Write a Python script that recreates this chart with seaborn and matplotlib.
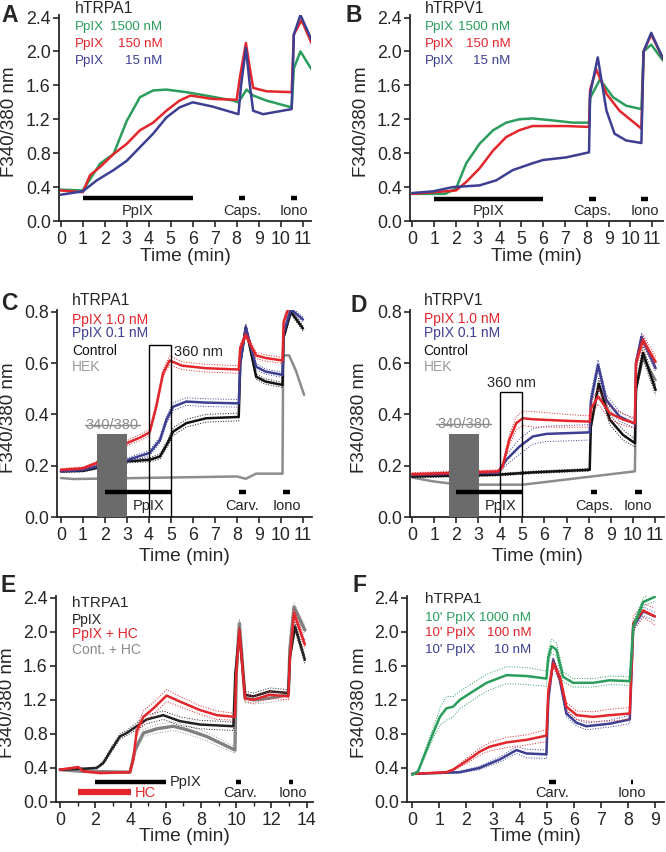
import numpy as np
import matplotlib
matplotlib.use("Agg")
import matplotlib.pyplot as plt
from matplotlib.patches import Rectangle
from matplotlib.ticker import MultipleLocator
import seaborn as sns

sns.set_style("ticks")
plt.rcParams['font.family'] = ['Liberation Sans', 'DejaVu Sans']

GREEN = '#2a9d5c'
RED = '#e3262c'
BLUE = '#3c3f92'
BLACK = '#111111'
GRAY = '#8c8c8c'

# ---- panel A : hTRPA1, PpIX dose ----
a_green_t = [0, 1.0, 1.8, 2.4, 3.0, 3.6, 4.2, 4.8, 5.7, 6.6, 7.85, 8.08, 8.45, 8.75, 9.36, 10.5, 10.6, 10.9, 11.4]
a_green = [0.37, 0.36, 0.68, 0.79, 1.18, 1.46, 1.54, 1.55, 1.52, 1.48, 1.42, 1.40, 1.55, 1.48, 1.42, 1.34, 1.80, 2.00, 1.79]
a_red_t = [0, 1.0, 1.33, 1.8, 2.4, 3.0, 3.6, 4.2, 4.8, 5.4, 5.9, 6.9, 8.0, 8.15, 8.42, 8.6, 8.75, 9.36, 10.5, 10.6, 10.95, 11.4]
a_red = [0.36, 0.34, 0.54, 0.64, 0.79, 0.91, 1.07, 1.16, 1.30, 1.42, 1.48, 1.44, 1.43, 1.70, 2.10, 1.80, 1.57, 1.53, 1.52, 2.20, 2.37, 2.10]
a_blue_t = [0, 1.0, 1.64, 2.4, 3.0, 3.6, 4.2, 4.8, 5.4, 6.0, 6.9, 8.08, 8.2, 8.42, 8.6, 8.75, 9.2, 10.5, 10.6, 10.9, 11.4]
a_blue = [0.31, 0.35, 0.48, 0.60, 0.71, 0.87, 1.03, 1.22, 1.34, 1.40, 1.35, 1.26, 1.60, 2.04, 1.60, 1.30, 1.26, 1.32, 2.20, 2.43, 2.14]
a_stim = ['PpIX', 'Caps.', 'Iono']
a_stim_on = [1.0, 8.1, 10.45]
a_stim_off = [6.0, 8.4, 10.75]

# ---- panel B : hTRPV1, PpIX dose ----
b_green_t = [0, 1.5, 2.0, 2.47, 3.08, 3.7, 4.3, 4.9, 5.5, 6.3, 7.36, 8.1, 8.15, 8.6, 9.2, 9.8, 10.5, 10.6, 10.95, 11.5]
b_green = [0.32, 0.32, 0.38, 0.68, 0.91, 1.07, 1.16, 1.20, 1.21, 1.19, 1.16, 1.16, 1.45, 1.67, 1.46, 1.36, 1.32, 2.00, 2.08, 1.89]
b_red_t = [0, 2.0, 2.47, 3.08, 3.7, 4.3, 4.9, 5.5, 7.05, 8.1, 8.15, 8.43, 8.9, 9.5, 10.5, 10.6, 10.95, 11.5]
b_red = [0.32, 0.36, 0.46, 0.62, 0.83, 0.99, 1.07, 1.12, 1.12, 1.11, 1.55, 1.79, 1.50, 1.30, 1.09, 2.00, 2.20, 1.91]
b_blue_t = [0, 0.95, 1.86, 3.08, 3.85, 4.6, 5.5, 6.0, 7.05, 8.1, 8.15, 8.5, 8.9, 9.27, 9.8, 10.5, 10.6, 10.95, 11.5]
b_blue = [0.33, 0.35, 0.40, 0.42, 0.48, 0.60, 0.68, 0.72, 0.75, 0.81, 1.50, 1.93, 1.30, 1.03, 0.95, 0.92, 2.00, 2.22, 1.91]
b_stim = ['PpIX', 'Caps.', 'Iono']
b_stim_on = [1.0, 8.1, 10.5]
b_stim_off = [6.0, 8.4, 10.8]

# ---- panel C : hTRPA1, 360 nm light ----
c_red_t = [0, 1.0, 1.6, 2.2, 3.05, 3.6, 4.03, 4.33, 4.64, 4.94, 5.5, 6.6, 8.08, 8.15, 8.4, 8.87, 9.3, 10.07, 10.12, 10.45, 11.0]
c_red = [0.184, 0.19, 0.21, 0.25, 0.29, 0.31, 0.33, 0.43, 0.56, 0.61, 0.59, 0.58, 0.575, 0.66, 0.71, 0.63, 0.62, 0.61, 0.76, 0.84, 0.82]
c_red_sem = [0.005, 0.005, 0.006, 0.008, 0.01, 0.012, 0.012, 0.015, 0.015, 0.018, 0.015, 0.015, 0.015, 0.015, 0.012, 0.012, 0.012, 0.012, 0.012, 0.012, 0.012]
c_blue_t = [0, 1.0, 2.2, 3.05, 4.03, 4.5, 4.8, 5.1, 5.7, 6.6, 8.08, 8.15, 8.4, 8.87, 9.3, 10.07, 10.12, 10.45, 11.0]
c_blue = [0.178, 0.184, 0.21, 0.223, 0.25, 0.30, 0.38, 0.43, 0.45, 0.446, 0.443, 0.60, 0.74, 0.586, 0.567, 0.554, 0.72, 0.81, 0.77]
c_blue_sem = [0.004, 0.005, 0.006, 0.008, 0.01, 0.012, 0.015, 0.015, 0.015, 0.015, 0.015, 0.015, 0.012, 0.012, 0.01, 0.01, 0.01, 0.01, 0.01]
c_black_t = [0, 1.0, 3.05, 4.03, 4.5, 4.86, 5.1, 5.7, 6.6, 8.08, 8.15, 8.4, 8.87, 9.3, 10.07, 10.12, 10.45, 11.0]
c_black = [0.178, 0.18, 0.217, 0.223, 0.236, 0.29, 0.333, 0.366, 0.385, 0.39, 0.60, 0.74, 0.547, 0.528, 0.515, 0.70, 0.80, 0.735]
c_black_sem = [0.004, 0.004, 0.006, 0.008, 0.01, 0.012, 0.015, 0.015, 0.015, 0.015, 0.015, 0.012, 0.01, 0.01, 0.01, 0.01, 0.01, 0.01]
c_hek_t = [0, 0.56, 8.0, 8.4, 8.87, 10.07, 10.1, 10.37, 10.68, 11.05]
c_hek = [0.152, 0.148, 0.158, 0.149, 0.169, 0.169, 0.63, 0.63, 0.57, 0.476]
c_stim = ['PpIX', 'Carv.', 'Iono']
c_stim_on = [2.0, 8.1, 10.1]
c_stim_off = [5.0, 8.4, 10.4]

# ---- panel D : hTRPV1, 360 nm light ----
d_red_t = [0, 3.9, 4.1, 4.4, 4.72, 5.02, 5.47, 6.99, 8.05, 8.1, 8.43, 8.96, 9.56, 10.1, 10.15, 10.47, 11.04]
d_red = [0.167, 0.178, 0.197, 0.30, 0.366, 0.385, 0.381, 0.375, 0.372, 0.42, 0.47, 0.405, 0.38, 0.366, 0.60, 0.69, 0.605]
d_red_sem = [0.006, 0.006, 0.01, 0.02, 0.025, 0.028, 0.03, 0.025, 0.022, 0.025, 0.03, 0.025, 0.022, 0.02, 0.02, 0.02, 0.02]
d_blue_t = [0, 3.9, 4.27, 4.87, 5.47, 6.08, 8.05, 8.1, 8.43, 8.8, 9.4, 10.1, 10.15, 10.4, 11.04]
d_blue = [0.165, 0.174, 0.223, 0.275, 0.314, 0.324, 0.33, 0.45, 0.593, 0.457, 0.392, 0.363, 0.60, 0.703, 0.58]
d_blue_sem = [0.005, 0.006, 0.02, 0.03, 0.03, 0.03, 0.03, 0.03, 0.02, 0.02, 0.02, 0.015, 0.015, 0.015, 0.015]
d_black_t = [0, 3.9, 5.47, 8.05, 8.1, 8.46, 8.96, 9.56, 10.1, 10.15, 10.47, 11.04]
d_black = [0.158, 0.165, 0.174, 0.184, 0.35, 0.52, 0.38, 0.32, 0.288, 0.50, 0.64, 0.495]
d_black_sem = [0.005, 0.005, 0.005, 0.005, 0.01, 0.02, 0.02, 0.02, 0.015, 0.02, 0.025, 0.02]
d_hek_t = [0, 0.94, 2.15, 5.02, 10.1, 10.15, 10.47, 11.04]
d_hek = [0.154, 0.139, 0.126, 0.126, 0.178, 0.50, 0.62, 0.534]
d_stim = ['PpIX', 'Caps.', 'Iono']
d_stim_on = [2.0, 8.1, 10.1]
d_stim_off = [5.0, 8.4, 10.4]

# ---- panel E : hTRPA1, HC pre-treatment ----
e_black_t = [0, 1.0, 1.32, 2.08, 2.46, 2.84, 3.4, 3.78, 4.35, 4.92, 5.86, 6.8, 7.95, 9.84, 9.95, 10.18, 10.5, 10.97, 11.9, 12.96, 13.05, 13.34, 13.9]
e_black = [0.38, 0.39, 0.39, 0.40, 0.46, 0.59, 0.77, 0.81, 0.89, 0.97, 1.02, 0.95, 0.91, 0.89, 1.50, 2.00, 1.26, 1.24, 1.30, 1.28, 1.70, 2.06, 1.67]
e_black_sem = [0.01, 0.01, 0.01, 0.01, 0.02, 0.03, 0.03, 0.03, 0.04, 0.05, 0.05, 0.05, 0.05, 0.05, 0.05, 0.05, 0.04, 0.04, 0.04, 0.04, 0.05, 0.05, 0.05]
e_red_t = [0, 1.04, 1.32, 2.27, 3.97, 4.16, 4.35, 4.73, 5.3, 6.05, 6.8, 7.95, 8.9, 9.93, 10.0, 10.18, 10.5, 10.97, 11.9, 12.96, 13.05, 13.28, 13.9]
e_red = [0.38, 0.41, 0.36, 0.34, 0.35, 0.50, 0.83, 1.00, 1.10, 1.25, 1.18, 1.08, 1.02, 1.00, 1.50, 2.02, 1.22, 1.20, 1.26, 1.24, 1.70, 2.22, 1.85]
e_red_sem = [0.01, 0.01, 0.01, 0.01, 0.01, 0.03, 0.06, 0.07, 0.07, 0.07, 0.06, 0.05, 0.05, 0.04, 0.05, 0.05, 0.04, 0.04, 0.04, 0.04, 0.05, 0.05, 0.05]
e_gray_t = [0, 1.32, 3.97, 4.26, 4.73, 5.49, 6.43, 7.19, 8.32, 9.93, 10.0, 10.18, 10.5, 10.97, 11.9, 12.96, 13.05, 13.28, 13.9]
e_gray = [0.38, 0.36, 0.35, 0.61, 0.81, 0.86, 0.89, 0.85, 0.77, 0.61, 1.50, 2.10, 1.22, 1.20, 1.22, 1.26, 1.80, 2.29, 2.02]
e_gray_sem = [0.01, 0.01, 0.01, 0.03, 0.04, 0.05, 0.05, 0.05, 0.05, 0.04, 0.05, 0.05, 0.05, 0.05, 0.05, 0.05, 0.05, 0.05, 0.05]
e_stim = ['PpIX', 'Carv.', 'Iono']
e_stim_on = [2.0, 10.0, 13.0]
e_stim_off = [6.0, 10.25, 13.25]
e_hc_on, e_hc_off = 1.0, 4.0

# ---- panel F : hTRPA1, 10 min PpIX pre-incubation ----
f_green_t = [0, 0.22, 0.53, 0.78, 1.03, 1.27, 1.52, 1.77, 2.26, 2.76, 3.5, 4.24, 4.98, 5.05, 5.17, 5.35, 5.6, 5.97, 6.71, 7.33, 8.07, 8.2, 8.57, 9.0]
f_green = [0.32, 0.36, 0.61, 0.81, 1.00, 1.10, 1.12, 1.20, 1.30, 1.40, 1.49, 1.48, 1.45, 1.70, 1.83, 1.79, 1.47, 1.40, 1.40, 1.43, 1.42, 2.06, 2.35, 2.41]
f_green_sem = [0.01, 0.01, 0.04, 0.06, 0.10, 0.14, 0.12, 0.10, 0.10, 0.10, 0.10, 0.10, 0.09, 0.08, 0.08, 0.08, 0.06, 0.05, 0.05, 0.05, 0.05, 0.05, 0.05, 0.05]
f_red_t = [0, 1.27, 1.52, 2.01, 2.5, 2.88, 3.5, 4.24, 4.98, 5.05, 5.23, 5.48, 5.72, 6.1, 6.71, 7.33, 8.07, 8.2, 8.57, 9.0]
f_red = [0.33, 0.35, 0.38, 0.48, 0.59, 0.65, 0.70, 0.73, 0.78, 1.30, 1.63, 1.47, 1.12, 1.02, 1.00, 1.02, 1.04, 2.10, 2.25, 2.18]
f_red_sem = [0.005, 0.005, 0.01, 0.03, 0.04, 0.05, 0.06, 0.06, 0.07, 0.06, 0.05, 0.05, 0.05, 0.05, 0.06, 0.07, 0.07, 0.08, 0.08, 0.10]
f_blue_t = [0, 1.77, 2.5, 3.25, 3.87, 4.24, 4.98, 5.05, 5.23, 5.48, 5.72, 6.1, 6.46, 7.33, 8.07, 8.2, 8.57, 9.0]
f_blue = [0.33, 0.35, 0.40, 0.50, 0.61, 0.57, 0.56, 1.20, 1.67, 1.43, 1.04, 0.93, 0.89, 0.92, 0.97, 2.06, 2.24, 2.18]
f_blue_sem = [0.005, 0.01, 0.02, 0.03, 0.04, 0.05, 0.05, 0.04, 0.03, 0.04, 0.04, 0.04, 0.04, 0.04, 0.05, 0.05, 0.05, 0.05]
f_stim = ['Carv.', 'Iono']
f_stim_on = [5.08, 8.12]
f_stim_off = [5.33, 8.2]


def trace(ax, t, v, color, sem=None, lw=1.8, band=None):
    sns.lineplot(x=t, y=v, ax=ax, color=color, lw=lw, estimator=None, sort=False, zorder=2)
    if sem is not None:
        v = np.asarray(v)
        sem = np.asarray(sem)
        for b in (v - sem, v + sem):
            sns.lineplot(x=t, y=b, ax=ax, color=band or color, lw=0.7, ls=':',
                         estimator=None, sort=False, zorder=2)


def stim_bars(ax, names, on, off, ybar, ytxt, lw=3.2, txt_x=None, txt_ha=None, txt_y=None):
    for i, (n, a, b) in enumerate(zip(names, on, off)):
        ax.plot([a, b], [ybar, ybar], color='black', lw=lw, solid_capstyle='butt', zorder=5)
        x = (a + b) / 2 if txt_x is None or txt_x[i] is None else txt_x[i]
        ha = 'center' if txt_ha is None else txt_ha[i]
        y = ytxt if txt_y is None or txt_y[i] is None else txt_y[i]
        ax.text(x, y, n, ha=ha, va='center', fontsize=10.5, zorder=5)


def style(ax, xlim, ylim, xmaj, ymaj, ylc, xlc):
    ax.set_xlim(*xlim)
    ax.set_ylim(*ylim)
    ax.xaxis.set_major_locator(MultipleLocator(xmaj))
    ax.yaxis.set_major_locator(MultipleLocator(ymaj))
    sns.despine(ax=ax)
    for s in ('left', 'bottom'):
        ax.spines[s].set_linewidth(1.3)
    ax.tick_params(direction='out', length=4.5, width=1.2, labelsize=12.8, pad=2.5)
    ax.tick_params(axis='y', pad=1.5)
    ax.set_xlabel('Time (min)', fontsize=13.8, va='top')
    ax.set_ylabel('F340/380 nm', fontsize=13.5, va='bottom')
    ax.xaxis.set_label_coords(0.5, xlc)
    ax.yaxis.set_label_coords(ylc, 0.48)


def legend_rows(ax, x, ys, labels, colors, fs=10):
    for y, lab, c in zip(ys, labels, colors):
        ax.text(x, y, lab, color=c, fontsize=fs, ha='left', va='center', transform=ax.transAxes)


def legend_split(ax, x, xr, ys, left, right, colors, fs=9.6):
    for y, l, r, c in zip(ys, left, right, colors):
        ax.text(x, y, l, color=c, fontsize=fs, ha='left', va='center', transform=ax.transAxes)
        ax.text(xr, y, r, color=c, fontsize=fs, ha='right', va='center', transform=ax.transAxes)


def uv_markers(ax, box_top, txt_x, txt_y, txt_ha, strike_y):
    ax.add_patch(Rectangle((1.65, 0), 1.37, 0.323, facecolor='#6b6b6b', edgecolor='none', zorder=3))
    ax.add_patch(Rectangle((4.0, 0), 1.0, box_top, facecolor='none', edgecolor='black', lw=1.0, zorder=4))
    ax.text(txt_x, txt_y, '360 nm', fontsize=10.5, ha=txt_ha, va='center', zorder=5)
    ax.text(2.33, strike_y, '340/380', fontsize=10.5, color='#8a8a8a', ha='center', va='center', zorder=5)
    ax.plot([1.1, 3.58], [strike_y, strike_y], color='#8a8a8a', lw=1.0, zorder=5)


W, H = 666, 852
fig = plt.figure(figsize=(W / 100, H / 100), dpi=100)


def add_ax(l, r, t, b):
    return fig.add_axes([l / W, 1 - b / H, (r - l) / W, (b - t) / H])


# A
ax = add_ax(59, 311, 15, 221)
trace(ax, a_green_t, a_green, GREEN)
trace(ax, a_red_t, a_red, RED)
trace(ax, a_blue_t, a_blue, BLUE)
stim_bars(ax, a_stim, a_stim_on, a_stim_off, 0.27, 0.12)
style(ax, (-0.08, 11.38), (0, 2.43), 1, 0.4, -0.163, -0.13)
ax.text(0.063, 1.033, 'hTRPA1', fontsize=11.3, ha='left', va='center', transform=ax.transAxes)
legend_split(ax, 0.063, 0.41, [0.94, 0.859, 0.778], ['PpIX'] * 3,
             ['1500 nM', '150 nM', '15 nM'], [GREEN, RED, BLUE])

# B
ax = add_ax(410, 663, 15, 221)
trace(ax, b_green_t, b_green, GREEN)
trace(ax, b_red_t, b_red, RED)
trace(ax, b_blue_t, b_blue, BLUE)
stim_bars(ax, b_stim, b_stim_on, b_stim_off, 0.26, 0.12)
style(ax, (-0.105, 11.49), (0, 2.43), 1, 0.4, -0.158, -0.13)
ax.text(0.058, 1.033, 'hTRPV1', fontsize=11.3, ha='left', va='center', transform=ax.transAxes)
legend_split(ax, 0.058, 0.397, [0.94, 0.859, 0.778], ['PpIX'] * 3,
             ['1500 nM', '150 nM', '15 nM'], [GREEN, RED, BLUE])

# C
ax = add_ax(57, 312, 310, 517)
trace(ax, c_hek_t, c_hek, GRAY)
trace(ax, c_black_t, c_black, BLACK, c_black_sem)
trace(ax, c_blue_t, c_blue, BLUE, c_blue_sem)
trace(ax, c_red_t, c_red, RED, c_red_sem)
uv_markers(ax, 0.67, 5.15, 0.645, 'left', 0.36)
stim_bars(ax, c_stim, c_stim_on, c_stim_off, 0.097, 0.041, txt_x=[4.0, None, None])
style(ax, (-0.18, 11.41), (0, 0.807), 1, 0.2, -0.157, -0.15)
ax.text(0.058, 1.048, 'hTRPA1', fontsize=11.3, ha='left', va='center', transform=ax.transAxes)
legend_rows(ax, 0.058, [0.952, 0.887, 0.803, 0.723],
            ['PpIX 1.0 nM', 'PpIX 0.1 nM', 'Control', 'HEK'], [RED, BLUE, BLACK, '#9a9a9a'])

# D
ax = add_ax(410, 664, 310, 517)
trace(ax, d_hek_t, d_hek, GRAY)
trace(ax, d_black_t, d_black, BLACK, d_black_sem)
trace(ax, d_blue_t, d_blue, BLUE, d_blue_sem)
trace(ax, d_red_t, d_red, RED, d_red_sem)
uv_markers(ax, 0.486, 4.5, 0.521, 'center', 0.363)
stim_bars(ax, d_stim, d_stim_on, d_stim_off, 0.097, 0.041, txt_x=[4.0, None, None])
style(ax, (-0.1, 11.42), (0, 0.807), 1, 0.2, -0.165, -0.15)
ax.text(0.054, 1.048, 'hTRPV1', fontsize=11.3, ha='left', va='center', transform=ax.transAxes)
legend_rows(ax, 0.054, [0.955, 0.887, 0.803, 0.723],
            ['PpIX 1.0 nM', 'PpIX 0.1 nM', 'Control', 'HEK'], [RED, BLUE, BLACK, '#9a9a9a'])

# E
ax = add_ax(56, 313, 596, 802)
trace(ax, e_gray_t, e_gray, '#808080', e_gray_sem, lw=2.4, band='#9a9a9a')
trace(ax, e_black_t, e_black, '#222222', e_black_sem)
trace(ax, e_red_t, e_red, RED, e_red_sem)
stim_bars(ax, e_stim, e_stim_on, e_stim_off, 0.235, 0.105,
          txt_x=[6.24, 10.2, 13.2], txt_ha=['left', 'center', 'center'], txt_y=[0.235, None, None])
ax.plot([e_hc_on, e_hc_off], [0.113, 0.113], color=RED, lw=4.5, solid_capstyle='butt', zorder=5)
ax.text(4.26, 0.11, 'HC', fontsize=10.5, color=RED, ha='left', va='center')
style(ax, (-0.23, 14.36), (0, 2.42), 2, 0.4, -0.156, -0.125)
ax.xaxis.set_minor_locator(MultipleLocator(1))
ax.tick_params(which='minor', length=3, width=1.0)
ax.text(0.061, 0.965, 'hTRPA1', fontsize=11, ha='left', va='center', transform=ax.transAxes)
legend_rows(ax, 0.061, [0.883, 0.814, 0.738],
            ['PpIX', 'PpIX + HC', 'Cont. + HC'], ['#222222', RED, '#8a8a8a'])

# F
ax = add_ax(407, 664, 596, 802)
trace(ax, f_blue_t, f_blue, BLUE, f_blue_sem)
trace(ax, f_red_t, f_red, RED, f_red_sem)
trace(ax, f_green_t, f_green, GREEN, f_green_sem)
stim_bars(ax, f_stim, f_stim_on, f_stim_off, 0.235, 0.105)
style(ax, (-0.19, 9.34), (0, 2.42), 1, 0.4, -0.152, -0.125)
ax.text(0.069, 0.984, 'hTRPA1', fontsize=11, ha='left', va='center', transform=ax.transAxes)
legend_split(ax, 0.069, 0.484, [0.895, 0.819, 0.738], ["10' PpIX"] * 3,
             ['1000 nM', '100 nM', '10 nM'], [GREEN, RED, BLUE])

# panel letters
for lab, x, y in [('A', 1, 15), ('B', 346, 15), ('C', 1, 304),
                  ('D', 351, 305), ('E', 0, 586), ('F', 352, 585)]:
    fig.text(x / W, 1 - y / H, lab, fontsize=16.5, fontweight='bold', ha='left', va='center')

fig.savefig('out.png', dpi=100)
